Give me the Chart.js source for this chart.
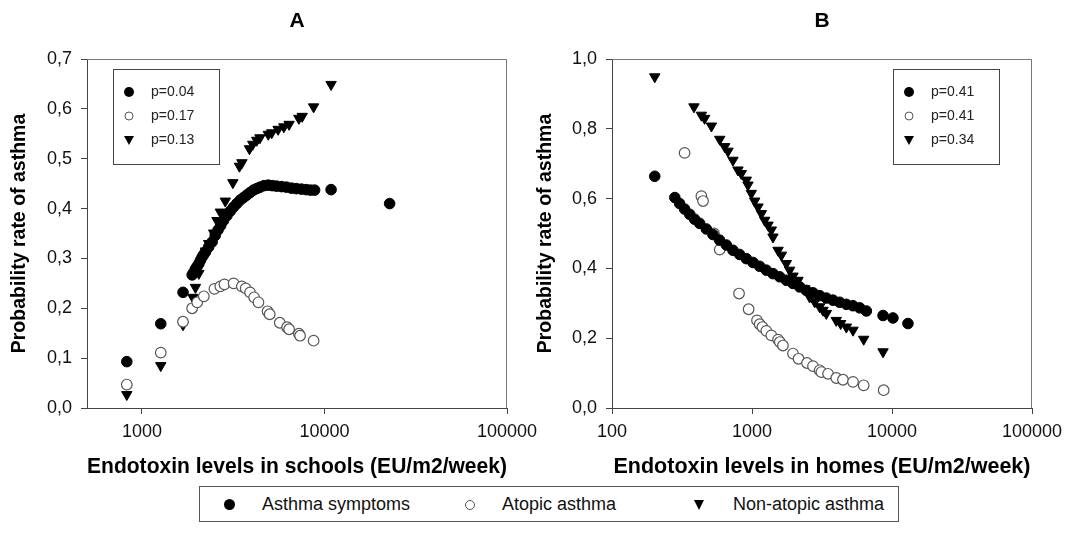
<!DOCTYPE html>
<html>
<head>
<meta charset="utf-8">
<script src="https://cdn.jsdelivr.net/npm/chart.js@4.4.1/dist/chart.umd.min.js"></script>
<style>
  body { margin: 0; background: #fff; font-family: "Liberation Sans", Arial, sans-serif; }
  #wrap { position: relative; width: 1073px; height: 540px; }
  canvas { position: absolute; top: 0; }
  #chartA { left: 0; }
  #chartB { left: 530px; }
  #legend { position: absolute; left: 199px; top: 486px; width: 700px; height: 36px; border: 1px solid #555; box-sizing: border-box; }
  .item { position: absolute; top: 6px; font-size: 18px; color: #111; line-height: 22px; }
  .mk { position: absolute; }
  .dot { width: 11px; height: 11px; border-radius: 50%; background: #000; top: 12px; }
  .ring { width: 8px; height: 8px; border-radius: 50%; border: 1px solid #555; top: 13px; }
  .tri { width: 0; height: 0; border-left: 5px solid transparent; border-right: 5px solid transparent; border-top: 10px solid #000; top: 13px; }
</style>
</head>
<body>
<div id="wrap">
  <canvas id="chartA" width="545" height="480"></canvas>
  <canvas id="chartB" width="543" height="480"></canvas>
  <div id="legend">
    <div class="mk dot" style="left:24px"></div><span class="item" style="left:62px">Asthma symptoms</span>
    <div class="mk ring" style="left:265px"></div><span class="item" style="left:302px">Atopic asthma</span>
    <div class="mk tri" style="left:494px"></div><span class="item" style="left:533px">Non-atopic asthma</span>
  </div>
</div>
<script>
// series names
const seriesNames = ['Asthma symptoms', 'Atopic asthma', 'Non-atopic asthma'];

// panel A - schools
const schoolsSymptX = [826, 1268, 1679, 1884, 1920, 1964, 2005, 2049, 2090, 2137, 2180, 2229, 2320, 2423, 2520, 2610, 2700, 2800, 2922, 3050, 3178, 3310, 3454, 3600, 3752, 3910, 4080, 4250, 4435, 4670, 4921, 5180, 5461, 5820, 6190, 6600, 7015, 7470, 7945, 8380, 8830, 10870, 22750];
const schoolsSymptY = [0.093, 0.169, 0.232, 0.267, 0.272, 0.279, 0.284, 0.289, 0.296, 0.303, 0.308, 0.313, 0.323, 0.333, 0.346, 0.357, 0.366, 0.376, 0.386, 0.395, 0.403, 0.410, 0.417, 0.422, 0.427, 0.432, 0.437, 0.440, 0.443, 0.446, 0.447, 0.446, 0.445, 0.444, 0.443, 0.441, 0.440, 0.439, 0.438, 0.437, 0.437, 0.438, 0.410];
const schoolsAtopX = [826, 1268, 1679, 1884, 2008, 2183, 2495, 2688, 2830, 3178, 3524, 3700, 3910, 4118, 4348, 4877, 5010, 5690, 6240, 6400, 7240, 7350, 8720];
const schoolsAtopY = [0.047, 0.111, 0.173, 0.200, 0.212, 0.224, 0.239, 0.244, 0.248, 0.250, 0.244, 0.240, 0.232, 0.222, 0.212, 0.194, 0.188, 0.171, 0.162, 0.158, 0.149, 0.145, 0.135];
const schoolsNonAtopX = [826, 1268, 1679, 1900, 1964, 2050, 2137, 2230, 2321, 2472, 2576, 2688, 2862, 3148, 3421, 3530, 3882, 4046, 4256, 4430, 4921, 5140, 5570, 5990, 6400, 7240, 7550, 8720, 10870];
const schoolsNonAtopY = [0.027, 0.085, 0.167, 0.222, 0.242, 0.270, 0.296, 0.315, 0.330, 0.351, 0.376, 0.393, 0.415, 0.452, 0.485, 0.492, 0.520, 0.529, 0.537, 0.542, 0.549, 0.552, 0.559, 0.564, 0.569, 0.581, 0.585, 0.604, 0.649];
const schoolsPValues = ['p=0.04', 'p=0.17', 'p=0.13'];

// panel B - homes
const homesSymptX = [202, 281, 304, 330, 359, 389, 423, 472, 526, 587, 656, 731, 816, 911, 1017, 1135, 1265, 1412, 1577, 1758, 1963, 2190, 2444, 2727, 3043, 3396, 3790, 4229, 4720, 5266, 5877, 6558, 8630, 10160, 13000];
const homesSymptY = [0.664, 0.603, 0.586, 0.570, 0.555, 0.541, 0.529, 0.513, 0.497, 0.481, 0.467, 0.452, 0.440, 0.428, 0.417, 0.406, 0.395, 0.385, 0.376, 0.366, 0.357, 0.347, 0.337, 0.330, 0.322, 0.315, 0.309, 0.303, 0.297, 0.293, 0.287, 0.278, 0.265, 0.258, 0.242];
const homesAtopX = [330, 435, 447, 535, 588, 808, 946, 1086, 1135, 1187, 1265, 1374, 1535, 1580, 1664, 1963, 2150, 2472, 2727, 3043, 3130, 3492, 3998, 4466, 5266, 6277, 8717];
const homesAtopY = [0.731, 0.607, 0.593, 0.500, 0.454, 0.328, 0.283, 0.251, 0.240, 0.232, 0.221, 0.208, 0.196, 0.189, 0.179, 0.156, 0.141, 0.129, 0.120, 0.108, 0.103, 0.098, 0.086, 0.081, 0.075, 0.065, 0.051];
const homesNonAtopX = [202, 385, 435, 459, 513, 588, 638, 674, 731, 794, 839, 911, 936, 989, 1045, 1104, 1167, 1232, 1301, 1374, 1412, 1535, 1622, 1758, 1857, 1963, 2132, 2377, 2583, 2806, 3043, 3214, 3396, 3998, 4299, 4720, 5266, 6277, 8630];
const homesNonAtopY = [0.949, 0.863, 0.839, 0.830, 0.808, 0.770, 0.749, 0.736, 0.710, 0.682, 0.672, 0.653, 0.639, 0.615, 0.593, 0.576, 0.557, 0.538, 0.524, 0.510, 0.490, 0.452, 0.438, 0.414, 0.395, 0.378, 0.366, 0.342, 0.318, 0.304, 0.290, 0.280, 0.271, 0.251, 0.242, 0.232, 0.223, 0.197, 0.161];
const homesPValues = ['p=0.41', 'p=0.41', 'p=0.34'];

// axis ticks
const xTicksA = [1000, 10000, 100000];
const xTicksB = [100, 1000, 10000, 100000];
const yTicksA = [0, 0.1, 0.2, 0.3, 0.4, 0.5, 0.6, 0.7];
const yTicksB = [0, 0.2, 0.4, 0.6, 0.8, 1.0];

const FONT = '"Liberation Sans", Arial, sans-serif';
const AXIS = '#444';

function pts(xs, ys) {
    return xs.map((x, i) => ({ x: x, y: ys[i] }));
}

function makeSets(sx, sy, ax, ay, nx, ny) {
    return [
        { label: seriesNames[0], data: pts(sx, sy), pointStyle: 'circle', pointRadius: 5.3, backgroundColor: '#000', borderColor: '#000', borderWidth: 1 },
        { label: seriesNames[1], data: pts(ax, ay), pointStyle: 'circle', pointRadius: 5.3, backgroundColor: '#fff', borderColor: '#555', borderWidth: 1.2 },
        { label: seriesNames[2], data: pts(nx, ny), pointStyle: 'triangle', pointRotation: 180, pointRadius: 6, backgroundColor: '#000', borderColor: '#000', borderWidth: 1 },
    ];
}

// draws the box frame and the small p-value key inside the plot
const frameAndKey = {
    id: 'frameAndKey',
    afterDraw(chart, args, opts) {
        const ctx = chart.ctx;
        const a = chart.chartArea;
        ctx.save();
        ctx.strokeStyle = '#777';
        ctx.lineWidth = 1;
        ctx.beginPath();
        ctx.moveTo(a.left, a.top + 0.5);
        ctx.lineTo(a.right - 0.5, a.top + 0.5);
        ctx.lineTo(a.right - 0.5, a.bottom);
        ctx.stroke();

        const bw = 106, bh = 95;
        const bx = opts.left ? a.left + 26 : a.right - 33 - bw;
        const by = a.top + 10;
        ctx.strokeStyle = '#444';
        ctx.strokeRect(bx + 0.5, by + 0.5, bw, bh);

        ctx.font = '14px ' + FONT;
        ctx.textBaseline = 'middle';
        opts.labels.forEach((txt, i) => {
            const y = by + 23 + i * 24;
            const x = bx + 16;
            ctx.beginPath();
            if (i === 0) {
                ctx.arc(x, y, 5, 0, Math.PI * 2);
                ctx.fillStyle = '#000';
                ctx.fill();
            } else if (i === 1) {
                ctx.arc(x, y, 4, 0, Math.PI * 2);
                ctx.fillStyle = '#fff';
                ctx.fill();
                ctx.strokeStyle = '#555';
                ctx.stroke();
            } else {
                ctx.moveTo(x - 5, y - 4);
                ctx.lineTo(x + 5, y - 4);
                ctx.lineTo(x, y + 5);
                ctx.closePath();
                ctx.fillStyle = '#000';
                ctx.fill();
            }
            ctx.fillStyle = '#222';
            ctx.fillText(txt, bx + 38, y);
        });
        ctx.restore();
    }
};

function makeChart(id, title, sets, xMin, xTicks, yMax, yTicks, xTitle, yWidth, yTitlePad, padRight, keyLeft, pLabels) {
    return new Chart(document.getElementById(id), {
        type: 'scatter',
        data: { datasets: sets },
        plugins: [frameAndKey],
        options: {
            responsive: false,
            animation: false,
            layout: { padding: { left: 0, right: padRight, top: 0, bottom: 0 } },
            plugins: {
                legend: { display: false },
                tooltip: { enabled: false },
                title: {
                    display: true,
                    text: title,
                    fullSize: false,
                    color: '#000',
                    font: { family: FONT, size: 21, weight: 'bold', lineHeight: 1.2 },
                    padding: { top: 8.4, bottom: 25.4 }
                },
                frameAndKey: { left: keyLeft, labels: pLabels }
            },
            scales: {
                x: {
                    type: 'logarithmic',
                    min: xMin,
                    max: 100000,
                    afterBuildTicks: s => { s.ticks = xTicks.map(v => ({ value: v })); },
                    afterFit: s => { s.height = 72; s.paddingRight = 0; s.paddingLeft = 0; },
                    grid: { display: true, drawOnChartArea: false, drawTicks: true, tickLength: 6, color: AXIS },
                    border: { display: true, color: AXIS, width: 1 },
                    ticks: {
                        color: '#111',
                        font: { family: FONT, size: 18 },
                        padding: 7,
                        maxRotation: 0,
                        callback: v => String(v)
                    },
                    title: {
                        display: true,
                        text: xTitle,
                        color: '#000',
                        font: { family: FONT, size: 21.5, weight: 'bold', lineHeight: 1.2 },
                        padding: { top: 0, bottom: 0 }
                    }
                },
                y: {
                    min: 0,
                    max: yMax,
                    afterBuildTicks: s => { s.ticks = yTicks.map(v => ({ value: v })); },
                    afterFit: s => { s.width = yWidth; },
                    grid: { display: true, drawOnChartArea: false, drawTicks: true, tickLength: 6, color: AXIS },
                    border: { display: true, color: AXIS, width: 1 },
                    ticks: {
                        color: '#111',
                        font: { family: FONT, size: 18 },
                        padding: 9,
                        callback: v => v.toFixed(1).replace('.', ',')
                    },
                    title: {
                        display: true,
                        text: 'Probability rate of asthma',
                        color: '#000',
                        font: { family: FONT, size: 19.5, weight: 'bold', lineHeight: 1.2 },
                        padding: { top: yTitlePad, bottom: 0 }
                    }
                }
            }
        }
    });
}

makeChart('chartA', 'A',
    makeSets(schoolsSymptX, schoolsSymptY, schoolsAtopX, schoolsAtopY, schoolsNonAtopX, schoolsNonAtopY),
    500, xTicksA, 0.7, yTicksA, 'Endotoxin levels in schools (EU/m2/week)', 87, 8, 38, true, schoolsPValues);

makeChart('chartB', 'B',
    makeSets(homesSymptX, homesSymptY, homesAtopX, homesAtopY, homesNonAtopX, homesNonAtopY),
    100, xTicksB, 1.0, yTicksB, 'Endotoxin levels in homes (EU/m2/week)', 82, 4, 41, false, homesPValues);
</script>
</body>
</html>
